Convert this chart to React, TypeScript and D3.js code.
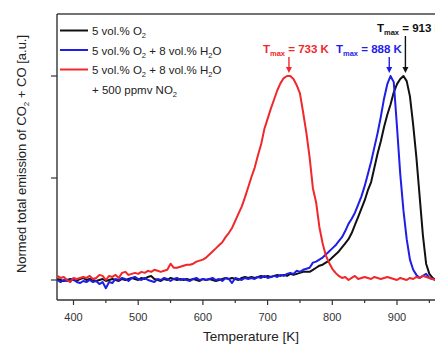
import React from "react";
import * as d3 from "d3";

const TEMPS = [
  375, 380, 385, 390, 395, 400, 405, 410, 415, 420,
  425, 430, 435, 440, 445, 450, 455, 460, 465, 470,
  475, 480, 485, 490, 495, 500, 505, 510, 515, 520,
  525, 530, 535, 540, 545, 550, 555, 560, 565, 570,
  575, 580, 585, 590, 595, 600, 605, 610, 615, 620,
  625, 630, 635, 640, 645, 650, 655, 660, 665, 670,
  675, 680, 685, 690, 695, 700, 705, 710, 715, 720,
  725, 730, 735, 740, 745, 750, 755, 760, 765, 770,
  775, 780, 785, 790, 795, 800, 805, 810, 815, 820,
  825, 830, 835, 840, 845, 850, 855, 860, 865, 870,
  875, 880, 885, 890, 895, 900, 905, 910, 915, 920,
  925, 930, 935, 940, 945, 950, 955, 960,
];

const O2_ONLY = [
  0.005, 0.0, -0.005, 0.0, 0.005, 0.0, -0.005, 0.005, 0.01, 0.0,
  0.005, 0.0, -0.005, 0.0, 0.005, -0.005, 0.0, 0.005, 0.0, -0.005,
  0.005, 0.0, 0.005, 0.01, 0.005, 0.0, 0.01, 0.005, 0.015, 0.02,
  0.005, 0.0, -0.005, 0.005, 0.0, 0.01, 0.005, 0.0, 0.005, 0.0,
  0.005, 0.0, 0.005, 0.0, -0.005, 0.005, 0.0, 0.005, 0.0, -0.005,
  0.0, 0.005, 0.01, 0.005, 0.01, 0.005, 0.0, 0.01, 0.015, 0.01,
  0.015, 0.01, 0.015, 0.02, 0.015, 0.02, 0.015, 0.02, 0.025, 0.02,
  0.025, 0.02, 0.03, 0.025, 0.03, 0.035, 0.04, 0.04, 0.04, 0.05,
  0.06, 0.07, 0.075, 0.085, 0.095, 0.11, 0.125, 0.14, 0.16, 0.18,
  0.2, 0.23, 0.27, 0.31, 0.35, 0.39, 0.44, 0.48, 0.55, 0.62,
  0.68, 0.75, 0.81, 0.86, 0.92, 0.96, 0.985, 1.0, 0.975, 0.9,
  0.76, 0.6, 0.41, 0.22, 0.08, 0.03, 0.01, 0.0,
];

const O2_H2O = [
  0.0, -0.01, 0.0, -0.005, 0.0, 0.005, -0.01, -0.015, -0.005, -0.01,
  0.0, -0.01, -0.005, -0.02, -0.01, -0.04, -0.01, -0.015, 0.005, 0.0,
  0.01, 0.005, -0.005, 0.01, 0.015, 0.005, 0.0, 0.01, 0.0, -0.005,
  -0.01, 0.005, 0.0, 0.01, 0.005, -0.005, 0.005, 0.01, 0.0, 0.005,
  0.0, -0.005, 0.005, 0.01, 0.0, 0.005, 0.0, 0.005, 0.01, 0.0,
  0.005, -0.005, 0.01, 0.005, -0.015, 0.01, 0.005, 0.0, 0.01, 0.005,
  0.01, 0.005, 0.015, 0.01, 0.02, 0.01, 0.015, 0.02, 0.015, 0.025,
  0.02, 0.03, 0.035, 0.03, 0.045, 0.04, 0.05, 0.055, 0.06, 0.085,
  0.09, 0.1, 0.11, 0.125, 0.14, 0.155, 0.17, 0.19, 0.21, 0.24,
  0.275, 0.3, 0.33, 0.37, 0.41, 0.46, 0.52, 0.58, 0.65, 0.72,
  0.8, 0.89, 0.96, 1.0, 0.97, 0.75, 0.52, 0.34, 0.2, 0.1,
  0.05, 0.025, 0.01, 0.02, 0.03, 0.01, 0.005, 0.0,
];

const O2_H2O_NO2 = [
  0.02, 0.01, 0.015, 0.0, -0.01, 0.01, 0.005, 0.01, 0.015, 0.01,
  0.02, 0.005, 0.01, 0.025, 0.02, 0.0, 0.02, 0.015, 0.025, 0.01,
  0.035, 0.04, 0.025, 0.03, 0.035, 0.03, 0.04, 0.035, 0.045, 0.04,
  0.05, 0.045, 0.04, 0.045, 0.05, 0.08, 0.06, 0.06, 0.065, 0.07,
  0.075, 0.075, 0.08, 0.09, 0.095, 0.1, 0.11, 0.125, 0.14, 0.155,
  0.17, 0.185, 0.21, 0.23, 0.255, 0.29, 0.325, 0.36, 0.405, 0.455,
  0.505, 0.55, 0.61, 0.665, 0.74, 0.79, 0.84, 0.885, 0.93, 0.965,
  0.99, 1.0, 1.0, 0.985, 0.955, 0.915, 0.82, 0.72, 0.6, 0.45,
  0.38, 0.26, 0.18, 0.12, 0.085, 0.055, 0.035, 0.02, 0.01, 0.015,
  0.0, 0.01, 0.02, 0.005, 0.01, 0.015, 0.01, 0.005, 0.015, 0.01,
  0.005, 0.01, 0.015, 0.01, 0.005, 0.0, 0.01, 0.005, 0.0, 0.01,
  0.005, 0.015, 0.01, 0.02, 0.015, 0.01, 0.005, 0.0,
];

const X_TICKS = [400, 500, 600, 700, 800, 900];
const X_MINOR = [450, 550, 650, 750, 850, 950];
const Y_TICKS = [0, 0.5, 1];

const T_MAX = [
  { t: 733, label: "733 K", color: "#f0282b" },
  { t: 888, label: "888 K", color: "#1e1ee8" },
  { t: 913, label: "913 K", color: "#111111" },
];

const BLACK = "#111111";
const BLUE = "#1e1ee8";
const RED = "#f0282b";

const W = 435;
const H = 345;

export default function App() {
  const x = d3.scaleLinear().domain([400, 900]).range([73.5, 397]);
  const y = d3.scaleLinear().domain([0, 1]).range([280, 76]);
  const left = 57;
  const top = 14;
  const bottom = 300;
  const right = 480;

  const mk = (vals: number[]) =>
    d3
      .line<number>()
      .x((_, i) => x(TEMPS[i]))
      .y((v) => y(v))(vals) as string;

  const font = "'Liberation Sans', Arial, sans-serif";

  const legend = [
    { color: BLACK, y: 30.5 },
    { color: BLUE, y: 50 },
    { color: RED, y: 69.5 },
  ];

  const sub = (s: string, fs = 7.5) => (
    <tspan fontSize={fs} dy={3}>
      {s}
    </tspan>
  );
  const back = (s: string) => <tspan dy={-3}>{s}</tspan>;

  const arrow = (xp: number, y1: number, y2: number, color: string) => (
    <g>
      <line x1={xp} x2={xp} y1={y1} y2={y2 - 5} stroke={color} strokeWidth={1.4} />
      <path d={`M${xp - 3},${y2 - 6} L${xp + 3},${y2 - 6} L${xp},${y2} Z`} fill={color} />
    </g>
  );

  return (
    <div style={{ position: "absolute", left: 0, top: 0 }}>
      <svg width={W} height={H} style={{ display: "block", background: "#fff" }} fontFamily={font}>
        <defs>
          <clipPath id="plot">
            <rect x={left} y={top} width={W - left} height={bottom - top} />
          </clipPath>
        </defs>
        {/* frame */}
        <line x1={left} x2={right} y1={top} y2={top} stroke="#444" strokeWidth={1.4} />
        <line x1={left} x2={left} y1={top} y2={bottom} stroke="#333" strokeWidth={1.4} />
        <line x1={left} x2={right} y1={bottom} y2={bottom} stroke="#333" strokeWidth={1.4} />

        {/* x ticks */}
        {X_TICKS.map((t) => (
          <g key={t}>
            <line x1={x(t)} x2={x(t)} y1={bottom} y2={bottom + 5} stroke="#333" strokeWidth={1.2} />
            <text x={x(t)} y={321} fontSize={11} textAnchor="middle" fill="#333">
              {t}
            </text>
          </g>
        ))}
        {X_MINOR.map((t) => (
          <line key={t} x1={x(t)} x2={x(t)} y1={bottom} y2={bottom + 3} stroke="#333" strokeWidth={1.2} />
        ))}
        {Y_TICKS.map((v) => (
          <line key={v} x1={left - 6} x2={left} y1={y(v)} y2={y(v)} stroke="#333" strokeWidth={1.2} />
        ))}

        {/* curves */}
        <g clipPath="url(#plot)" fill="none" strokeWidth={2} strokeLinejoin="round">
          <path d={mk(O2_ONLY)} stroke={BLACK} />
          <path d={mk(O2_H2O)} stroke={BLUE} />
          <path d={mk(O2_H2O_NO2)} stroke={RED} />
        </g>

        {/* legend */}
        {legend.map((l, i) => (
          <line key={i} x1={60} x2={88} y1={l.y} y2={l.y} stroke={l.color} strokeWidth={2} />
        ))}
        <g fontSize={11.5} fill="#222">
          <text x={92} y={35}>
            5 vol.% O{sub("2")}
          </text>
          <text x={92} y={54.5}>
            5 vol.% O{sub("2")}
            {back(" + 8 vol.% H")}
            {sub("2")}
            {back("O")}
          </text>
          <text x={92} y={74}>
            5 vol.% O{sub("2")}
            {back(" + 8 vol.% H")}
            {sub("2")}
            {back("O")}
          </text>
          <text x={92} y={94}>
            + 500 ppmv NO{sub("2")}
          </text>
        </g>

        {/* annotations */}
        {T_MAX.map((a, i) => {
          const xp = x(a.t);
          const isTop = i === 2;
          const ty = isTop ? 31.5 : 53;
          const tx = i === 0 ? 263 : i === 1 ? 336 : 377;
          return (
            <g key={a.t}>
              <text x={tx} y={ty} fontSize={11.5} fontWeight="bold" fill={a.color}>
                T
                <tspan fontSize={7.5} dy={3}>
                  max
                </tspan>
                <tspan dy={-3}>{" = " + a.label}</tspan>
              </text>
              {arrow(xp, isTop ? 36 : 57, 73, a.color)}
            </g>
          );
        })}

        {/* axis titles */}
        <text x={251} y={341} fontSize={13.5} textAnchor="middle" fill="#222">
          Temperature [K]
        </text>
        <text
          transform="translate(26,154) rotate(-90)"
          fontSize={13}
          textAnchor="middle"
          fill="#222"
        >
          Normed total emission of CO{sub("2", 8)}
          {back(" + CO [a.u.]")}
        </text>
      </svg>
    </div>
  );
}
